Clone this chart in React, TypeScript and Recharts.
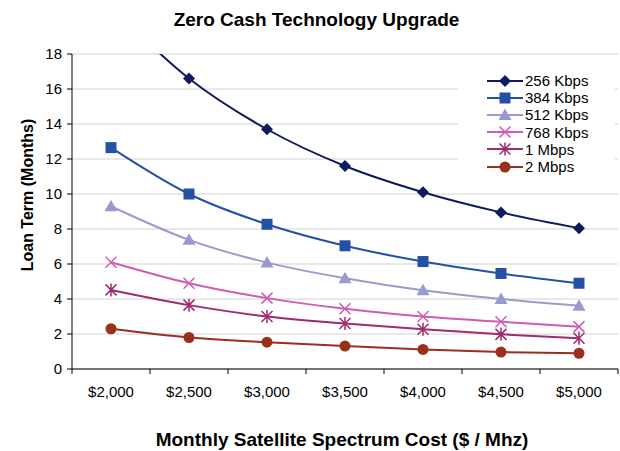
import { LineChart, Line, XAxis, YAxis, CartesianGrid, Legend } from 'recharts'

const categories = ['$2,000', '$2,500', '$3,000', '$3,500', '$4,000', '$4,500', '$5,000']
const kbps256 = [20.7, 16.6, 13.7, 11.6, 10.1, 8.95, 8.05]
const kbps384 = [12.65, 10.0, 8.27, 7.04, 6.14, 5.46, 4.9]
const kbps512 = [9.3, 7.38, 6.08, 5.19, 4.5, 4.0, 3.62]
const kbps768 = [6.1, 4.9, 4.05, 3.44, 3.0, 2.7, 2.42]
const mbps1 = [4.52, 3.65, 3.0, 2.6, 2.27, 1.98, 1.76]
const mbps2 = [2.3, 1.8, 1.53, 1.31, 1.12, 0.97, 0.9]
const yTicks = [0, 2, 4, 6, 8, 10, 12, 14, 16, 18]

const series = [
  { key: 's256', name: '256 Kbps', values: kbps256, color: '#0f1a60', shape: 'diamond' },
  { key: 's384', name: '384 Kbps', values: kbps384, color: '#2451a4', shape: 'square' },
  { key: 's512', name: '512 Kbps', values: kbps512, color: '#9a9acf', shape: 'triangle' },
  { key: 's768', name: '768 Kbps', values: kbps768, color: '#cf5cb4', shape: 'cross' },
  { key: 's1m', name: '1 Mbps', values: mbps1, color: '#a02a70', shape: 'star' },
  { key: 's2m', name: '2 Mbps', values: mbps2, color: '#9a2f1c', shape: 'circle' },
]

const data = categories.map((cat, i) => {
  const row: Record<string, string | number> = { cat }
  series.forEach((s) => (row[s.key] = s.values[i]))
  return row
})

const FONT = '"Liberation Sans", Arial, sans-serif'
const W = 620
const H = 451
const MARGIN = { top: 54, right: 2, left: 32, bottom: 52 }
const Y_WIDTH = 40
const BAND = (W - MARGIN.left - MARGIN.right - Y_WIDTH) / categories.length

function Marker({ cx, cy, shape, color }: { cx: number; cy: number; shape: string; color: string }) {
  switch (shape) {
    case 'diamond':
      return <polygon points={`${cx},${cy - 6} ${cx + 6},${cy} ${cx},${cy + 6} ${cx - 6},${cy}`} fill={color} />
    case 'square':
      return <rect x={cx - 5.5} y={cy - 5.5} width={11} height={11} fill={color} />
    case 'triangle':
      return <polygon points={`${cx},${cy - 6.5} ${cx + 6.5},${cy + 5} ${cx - 6.5},${cy + 5}`} fill={color} />
    case 'cross':
      return (
        <path
          d={`M${cx - 5.5},${cy - 5.5}L${cx + 5.5},${cy + 5.5}M${cx - 5.5},${cy + 5.5}L${cx + 5.5},${cy - 5.5}`}
          stroke={color}
          strokeWidth={1.5}
          fill="none"
        />
      )
    case 'star':
      return (
        <path
          d={`M${cx - 5.5},${cy - 5.5}L${cx + 5.5},${cy + 5.5}M${cx - 5.5},${cy + 5.5}L${cx + 5.5},${cy - 5.5}M${cx},${cy - 6.5}L${cx},${cy + 6.5}`}
          stroke={color}
          strokeWidth={1.5}
          fill="none"
        />
      )
    default:
      return <circle cx={cx} cy={cy} r={5.5} fill={color} />
  }
}

const dotFor = (shape: string, color: string) => (p: any) => (
  <g key={`dot-${p.index}`}>
    {p.cx != null && p.cy != null ? <Marker cx={p.cx} cy={p.cy} shape={shape} color={color} /> : null}
  </g>
)

function XTick(props: any) {
  const { x, y, payload, index } = props
  const axisY = y - 13
  return (
    <g>
      <line x1={x - BAND / 2} x2={x - BAND / 2} y1={axisY} y2={axisY + 5} stroke="#000" />
      {index === categories.length - 1 && (
        <line x1={x + BAND / 2} x2={x + BAND / 2} y1={axisY} y2={axisY + 5} stroke="#000" />
      )}
      <text x={x} y={y} dy={15} textAnchor="middle" fill="#000" fontSize={15} fontFamily={FONT}>
        {payload.value}
      </text>
    </g>
  )
}

// legend keeps the series order, not the library's sorted payload
function LegendBox() {
  return (
    <div style={{ padding: '10px 0 0 29px', fontFamily: FONT, fontSize: 15, color: '#000' }}>
      {series.map((s) => (
        <div key={s.key} style={{ display: 'flex', alignItems: 'center', height: 17.2 }}>
          <svg width={36} height={14} style={{ display: 'block' }}>
            <line x1={0} x2={36} y1={7} y2={7} stroke={s.color} strokeWidth={2} />
            <Marker cx={18} cy={7} shape={s.shape} color={s.color} />
          </svg>
          <span style={{ marginLeft: 2, lineHeight: '17px' }}>{s.name}</span>
        </div>
      ))}
    </div>
  )
}

export default function App() {
  return (
    <div style={{ position: 'absolute', left: 0, top: 0, width: W, height: H, background: '#fff' }}>
      <LineChart width={W} height={H} data={data} margin={MARGIN}>
        <CartesianGrid vertical={false} stroke="#d2d2d2" />
        <XAxis
          dataKey="cat"
          padding={{ left: BAND / 2, right: BAND / 2 }}
          axisLine={{ stroke: '#000' }}
          tickLine={false}
          tickSize={5}
          tickMargin={8}
          height={30}
          interval={0}
          tick={<XTick />}
        />
        <YAxis
          domain={[0, 18]}
          ticks={yTicks}
          allowDataOverflow
          width={Y_WIDTH}
          axisLine={{ stroke: '#000' }}
          tickLine={{ stroke: '#000' }}
          tickSize={5}
          tickMargin={5}
          tick={{ fill: '#000', fontSize: 15, fontFamily: FONT }}
        />
        <YAxis yAxisId="border" orientation="right" width={0} tick={false} tickLine={false} axisLine={{ stroke: '#a0a0a0' }} />
        <Legend
          layout="horizontal"
          verticalAlign="middle"
          align="center"
          content={<LegendBox />}
          wrapperStyle={{ left: 458, top: 62, width: 157, height: 121, background: '#fff' }}
        />
        {series.map((s) => (
          <Line
            key={s.key}
            dataKey={s.key}
            name={s.name}
            type="monotone"
            stroke={s.color}
            strokeWidth={2}
            dot={dotFor(s.shape, s.color)}
            activeDot={false}
            isAnimationActive={false}
          />
        ))}
      </LineChart>
      <div
        style={{
          position: 'absolute', left: 0, top: 10, width: 633, textAlign: 'center',
          fontFamily: FONT, fontWeight: 'bold', fontSize: 19, lineHeight: '19px',
        }}
      >
        Zero Cash Technology Upgrade
      </div>
      <div
        style={{
          position: 'absolute', left: 0, top: 430, width: 684, textAlign: 'center',
          fontFamily: FONT, fontWeight: 'bold', fontSize: 19, lineHeight: '19px',
        }}
      >
        Monthly Satellite Spectrum Cost ($ / Mhz)
      </div>
      <div
        style={{
          position: 'absolute', left: -72, top: 187, width: 200, height: 16, textAlign: 'center',
          fontFamily: FONT, fontWeight: 'bold', fontSize: 16, lineHeight: '16px', transform: 'rotate(-90deg)',
        }}
      >
        Loan Term (Months)
      </div>
    </div>
  )
}
